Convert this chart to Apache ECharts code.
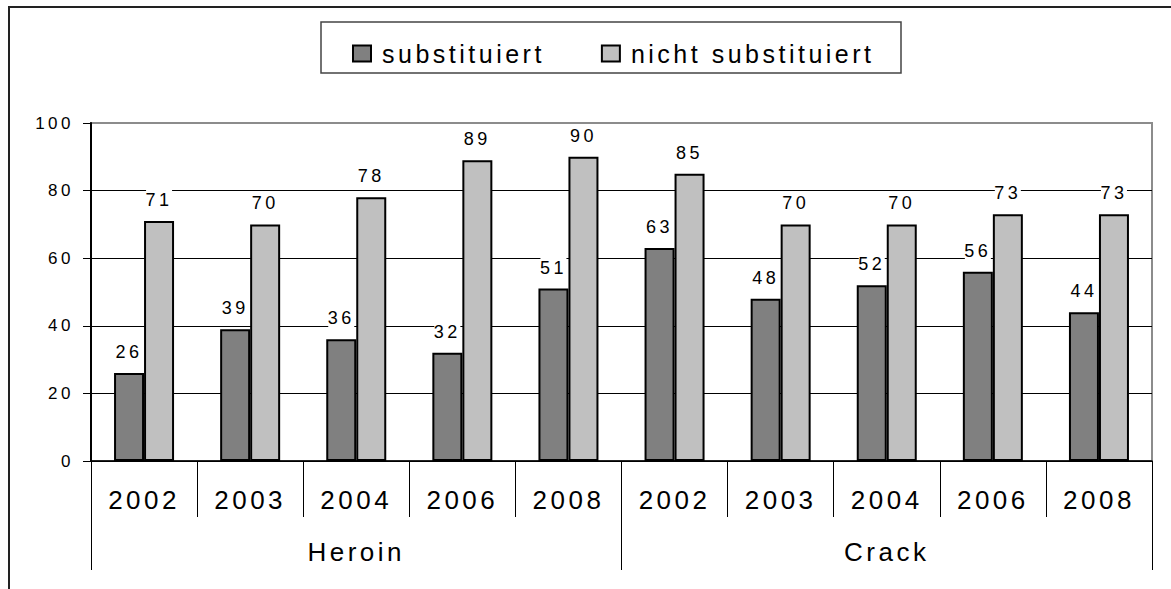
<!DOCTYPE html>
<html>
<head>
<meta charset="utf-8">
<script src="https://cdn.jsdelivr.net/npm/echarts@6/dist/echarts.min.js"></script>
<style>
html,body{margin:0;padding:0;background:#fff;}
#chart{width:1171px;height:589px;}
#chart text{letter-spacing:3.5px;}
</style>
</head>
<body>
<div id="chart"></div>
<script>
const years = ['2002','2003','2004','2006','2008','2002','2003','2004','2006','2008'];
const groups = ['Heroin','Crack'];
const seriesNames = ['substituiert','nicht substituiert'];
const substituiert = [26,39,36,32,51,63,48,52,56,44];
const nichtSubstituiert = [71,70,78,89,90,85,70,70,73,73];
const yTicks = [0,20,40,60,80,100];

const FONT = 'Liberation Sans';
const chart = echarts.init(document.getElementById('chart'), null, {renderer:'svg'});
const labelCfg = {
  show:true, position:'top', distance:11,
  fontFamily:FONT, fontSize:18, color:'#000',
  backgroundColor:'#fff', padding:[1,3]
};
const gridPos = {left:91, right:19, top:123, bottom:128};
chart.setOption({
  animation:false,
  backgroundColor:'#fff',
  textStyle:{fontFamily:FONT},
  graphic:[
    {type:'rect', shape:{x:9,y:7,width:1250,height:700}, style:{fill:'none',stroke:'#222',lineWidth:2}, z:-10},
    {type:'rect', shape:{x:321,y:22,width:580,height:51}, style:{fill:'#fff',stroke:'#444',lineWidth:1.5}, z:-5}
  ],
  legend:{
    left:347, top:36,
    itemWidth:18, itemHeight:16, itemGap:98,
    icon:'rect',
    textStyle:{fontFamily:FONT, fontSize:25, color:'#000', padding:[0,0,0,6]},
    data:seriesNames
  },
  grid:[
    Object.assign({show:true, borderColor:'#8c8c8c', borderWidth:2, backgroundColor:'transparent'}, gridPos),
    Object.assign({show:false}, gridPos)
  ],
  xAxis:[
    {type:'category', gridIndex:0, data:years, position:'bottom',
     axisLine:{show:true, lineStyle:{color:'#000', width:1.5}},
     axisTick:{show:true, interval:0, length:56, lineStyle:{color:'#000', width:1}},
     axisLabel:{interval:0, margin:26, fontFamily:FONT, fontSize:26, color:'#000'},
     splitLine:{show:false}},
    {type:'category', gridIndex:1, data:groups, position:'bottom',
     axisLine:{show:false},
     axisTick:{show:true, interval:0, length:109, lineStyle:{color:'#000', width:1}},
     axisLabel:{interval:0, margin:78, fontFamily:FONT, fontSize:26, color:'#000'},
     splitLine:{show:false}}
  ],
  yAxis:[
    {type:'value', gridIndex:0, min:yTicks[0], max:yTicks[yTicks.length-1], interval:20,
     axisLine:{show:true, lineStyle:{color:'#000', width:2}},
     axisTick:{show:true, length:8, lineStyle:{color:'#000', width:1}},
     axisLabel:{margin:17, fontFamily:FONT, fontSize:17, color:'#000'},
     splitLine:{show:true, lineStyle:{color:['#000','#000','#000','#000','#000','transparent'], width:1}}},
    {type:'value', gridIndex:1, min:0, max:100, show:false}
  ],
  series:[
    {name:seriesNames[0], type:'bar', xAxisIndex:0, yAxisIndex:0, data:substituiert,
     barWidth:30, barGap:'0%',
     itemStyle:{color:'#808080', borderColor:'#000', borderWidth:2},
     label:labelCfg},
    {name:seriesNames[1], type:'bar', xAxisIndex:0, yAxisIndex:0, data:nichtSubstituiert,
     barWidth:30, barGap:'0%',
     itemStyle:{color:'#c0c0c0', borderColor:'#000', borderWidth:2},
     label:labelCfg}
  ]
});
</script>
</body>
</html>
